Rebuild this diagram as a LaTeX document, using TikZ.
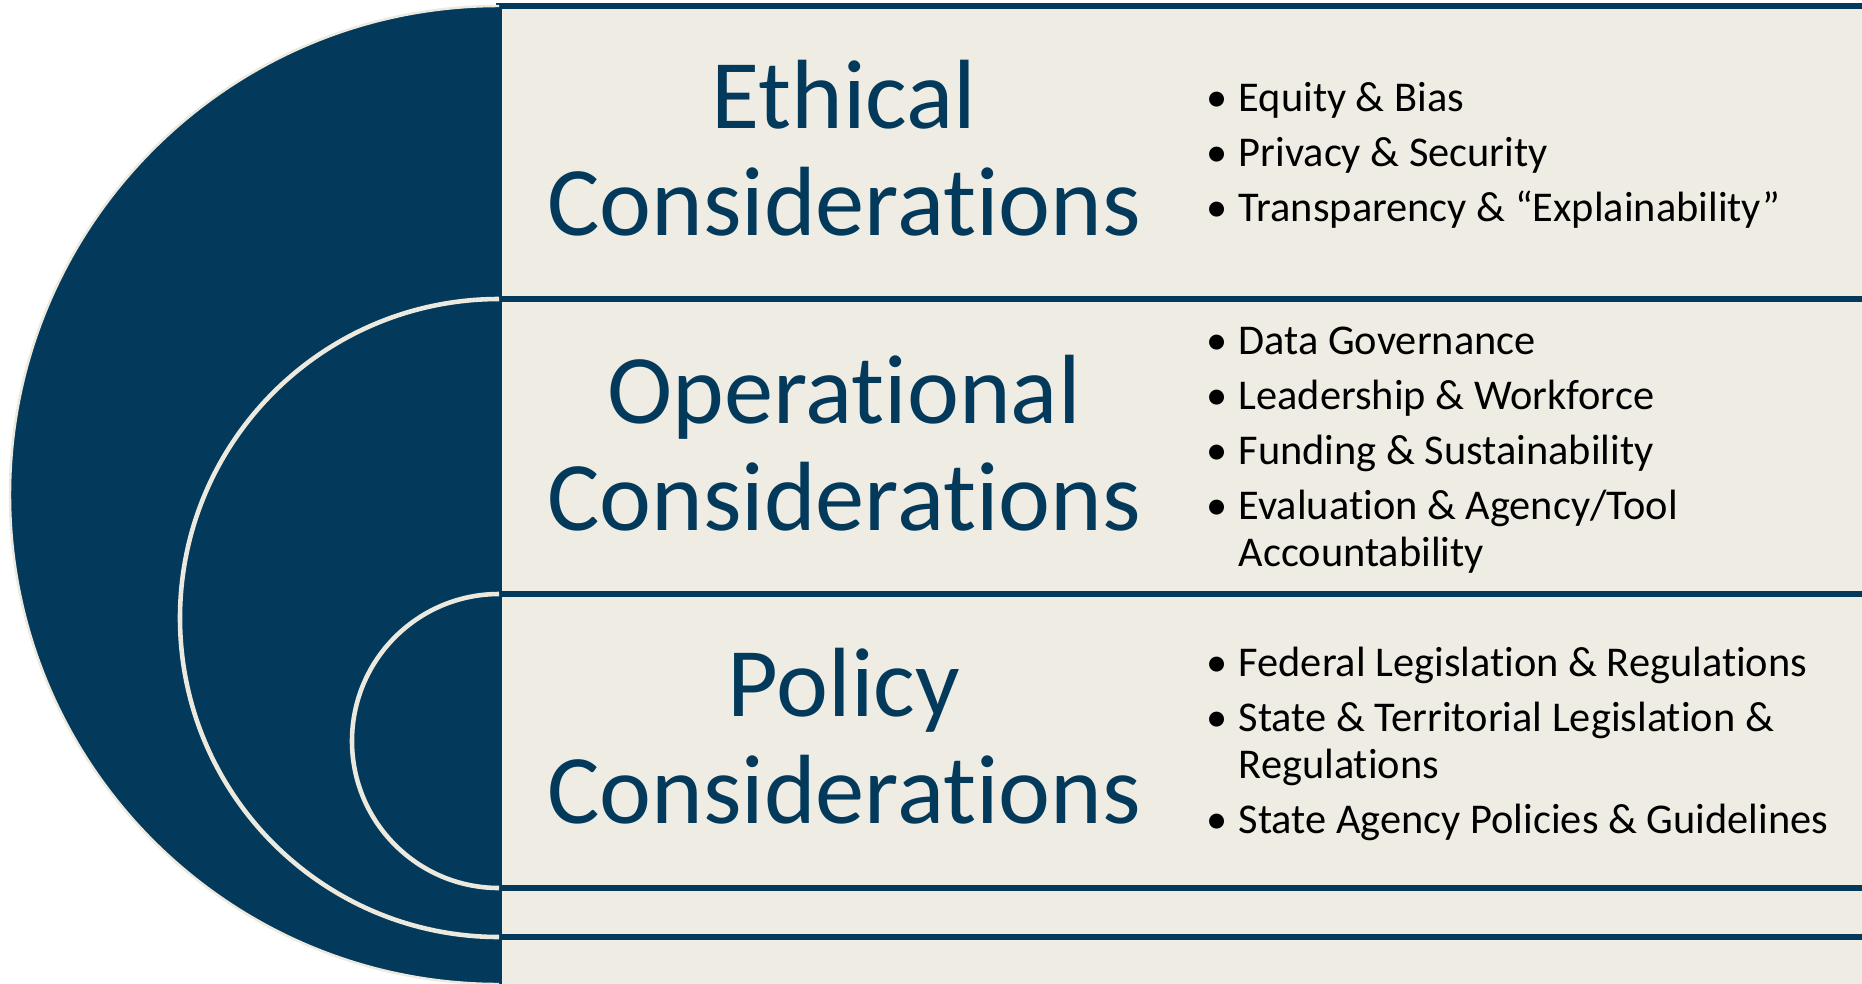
\documentclass[tikz,border=0pt]{standalone}
\usepackage{fontspec}
\setmainfont{Carlito}[Ligatures=CommonOff]
\usepackage{tikz}

\definecolor{navy}{RGB}{3,58,92}
\definecolor{paper}{RGB}{238,236,227}
\definecolor{rim}{RGB}{236,233,222}

% bullet line and its wrapped continuation
\def\itm#1{\makebox[0.32cm][l]{\textbullet}#1}
\def\cont#1{\hspace*{0.32cm}#1}
% navy half disc opening to the right, cream rim on the curved side
\def\halfdisc[#1](#2,#3)(#4){\fill[navy] (#2,#3) arc[start angle=90, end angle=270, radius=#4] -- cycle;
	\draw[#1] (#2,#3) arc[start angle=90, end angle=270, radius=#4];}

\tikzset{
	band/.style={draw=navy, line width=1.5pt, fill=paper},
	heading/.style={text=navy, font=\fontsize{28}{30.4}\selectfont, align=center, inner sep=0pt, anchor=base},
	points/.style={text=black, font=\fontsize{12.06}{13.5}\selectfont, align=left, inner sep=0pt, anchor=base west}
}

\begin{document}
\begin{tikzpicture}
		%%%%% START %%%%%
		
		\clip (0, 0) rectangle (18.62, 9.83);
		\fill[white] (0, 0) rectangle (18.62, 9.83);
		
		% outer layer
		\draw[band] (4.99, -0.1) rectangle (19, 9.77);
		\halfdisc[draw=rim, line width=0.7pt](4.99, 9.77)(4.89);
		
		% middle layer
		\draw[band] (4.99, 0.46) rectangle (19, 6.84);
		\halfdisc[draw=rim, line width=1.3pt](4.99, 6.84)(3.19);
		
		% inner layer
		\draw[band] (4.99, 0.95) rectangle (19, 3.89);
		\halfdisc[draw=rim, line width=1.3pt](4.99, 3.89)(1.47);
		
		% headings (base = last line)
		\node[heading] (ethical) at (8.44, 7.48) {Ethical\\Considerations};
		\node[heading] (operational) at (8.44, 4.53) {Operational\\Considerations};
		\node[heading] (policy) at (8.44, 1.60) {Policy\\Considerations};
		
		% bullet lists
		\node[points] (ethicalpts) at (12.06, 7.615) {\itm{Equity \& Bias}\\[2.15pt]
			\itm{Privacy \& Security}\\[2.15pt]
			\itm{Transparency \& “Explainability”}};
		\node[points] (operationalpts) at (12.06, 4.165) {\itm{Data Governance}\\[2.15pt]
			\itm{Leadership \& Workforce}\\[2.15pt]
			\itm{Funding \& Sustainability}\\[2.15pt]
			\itm{Evaluation \& Agency/Tool}\\
			\cont{Accountability}};
		\node[points] (policypts) at (12.06, 1.495) {\itm{Federal Legislation \& Regulations}\\[2.15pt]
			\itm{State \& Territorial Legislation \&}\\
			\cont{Regulations}\\[2.15pt]
			\itm{State Agency Policies \& Guidelines}};
		
		%%%%% END %%%%%
\end{tikzpicture}
\end{document}
